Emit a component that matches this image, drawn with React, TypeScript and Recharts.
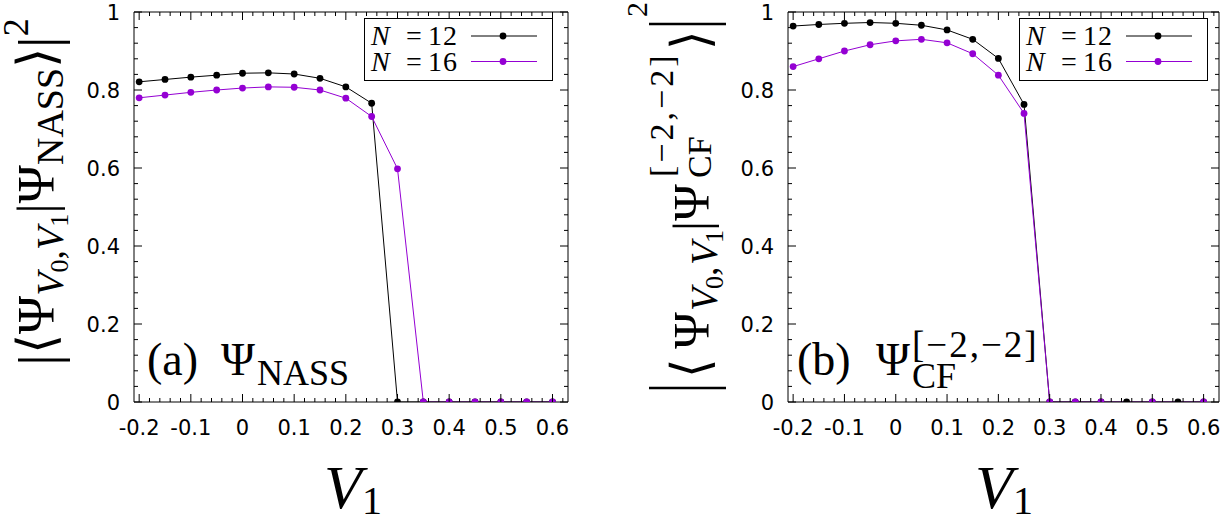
import React from 'react';
import { LineChart, Line, XAxis, YAxis, Legend } from 'recharts';

// ---- data ----
const xValues = [-0.2, -0.15, -0.1, -0.05, 0, 0.05, 0.1, 0.15, 0.2, 0.25, 0.3, 0.35, 0.4, 0.45, 0.5, 0.55, 0.6];
const nassN12 = [0.821, 0.827, 0.833, 0.838, 0.843, 0.844, 0.841, 0.83, 0.808, 0.766, 0, 0, 0, 0, 0, 0, 0];
const nassN16 = [0.78, 0.787, 0.794, 0.8, 0.805, 0.808, 0.807, 0.8, 0.779, 0.732, 0.598, 0, 0, 0, 0, 0, 0];
const cfN12 = [0.964, 0.968, 0.971, 0.973, 0.971, 0.966, 0.954, 0.93, 0.881, 0.763, 0, 0, 0, 0, 0, 0, 0];
const cfN16 = [0.86, 0.88, 0.9, 0.916, 0.926, 0.93, 0.921, 0.893, 0.838, 0.74, 0, 0, 0, null, 0, null, 0];

const seriesLabels = ['12', '16'];
const seriesColors = ['#000000', '#9400D3'];

const xMajorTicks = [-0.2, -0.1, 0, 0.1, 0.2, 0.3, 0.4, 0.5, 0.6];
const xTickLabels = ['-0.2', '-0.1', '0', '0.1', '0.2', '0.3', '0.4', '0.5', '0.6'];
const yMajorTicks = [0, 0.2, 0.4, 0.6, 0.8, 1];
const yTickLabels = ['0', '0.2', '0.4', '0.6', '0.8', '1'];
const xDomain = [-0.21, 0.63];
const yDomain = [0, 1];

// minor ticks: 5 subdivisions between majors
const subdivide = (majors: number[], step: number, lo: number, hi: number) => {
  const out: number[] = [];
  const n = Math.round((hi - lo) / step);
  for (let i = 0; i <= n; i++) {
    const v = Math.round((lo + i * step) * 1000) / 1000;
    if (!majors.some((m) => Math.abs(m - v) < 1e-6)) out.push(v);
  }
  return out;
};
const xMinorTicks = subdivide(xMajorTicks, 0.02, -0.2, 0.62);
const yMinorTicks = subdivide(yMajorTicks, 0.04, 0, 1);
const xAllTicks = [...xMajorTicks, ...xMinorTicks];
const yAllTicks = [...yMajorTicks, ...yMinorTicks];

const makeRows = (a: (number | null)[], b: (number | null)[]) =>
  xValues.map((x, i) => ({ x, n12: a[i], n16: b[i] }));
const dataA = makeRows(nassN12, nassN16);
const dataB = makeRows(cfN12, cfN16);

const majorIdx = (arr: number[], v: number) => arr.findIndex((m) => Math.abs(m - v) < 1e-6);

const TICK_FONT = 'DejaVu Sans, sans-serif';
const SERIF = 'Liberation Serif, Times New Roman, serif';
const BRACKET = 'DejaVu Sans';
const MAJ = 8;
const MIN = 4;

const BottomTick = (p: any) => {
  const { x, y, payload } = p;
  const i = majorIdx(xMajorTicks, payload.value);
  return (
    <g>
      <line x1={x} x2={x} y1={y} y2={y - (i >= 0 ? MAJ : MIN)} stroke="#000" strokeWidth={1} />
      {i >= 0 && (
        <text x={x} y={y + 33} textAnchor="middle" fontFamily={TICK_FONT} fontSize={21} fill="#000">
          {xTickLabels[i]}
        </text>
      )}
    </g>
  );
};
const TopTick = (p: any) => {
  const { x, y, payload } = p;
  const i = majorIdx(xMajorTicks, payload.value);
  return <line x1={x} x2={x} y1={y} y2={y + (i >= 0 ? MAJ : MIN)} stroke="#000" strokeWidth={1} />;
};
const LeftTick = (p: any) => {
  const { x, y, payload } = p;
  const i = majorIdx(yMajorTicks, payload.value);
  return (
    <g>
      <line x1={x} x2={x + (i >= 0 ? MAJ : MIN)} y1={y} y2={y} stroke="#000" strokeWidth={1} />
      {i >= 0 && (
        <text x={x - 14} y={y + 8} textAnchor="end" fontFamily={TICK_FONT} fontSize={21} fill="#000">
          {yTickLabels[i]}
        </text>
      )}
    </g>
  );
};
const RightTick = (p: any) => {
  const { x, y, payload } = p;
  const i = majorIdx(yMajorTicks, payload.value);
  return <line x1={x} x2={x - (i >= 0 ? MAJ : MIN)} y1={y} y2={y} stroke="#000" strokeWidth={1} />;
};

const LegendBox = () => (
  <svg width={190} height={64} style={{ display: 'block' }}>
    <rect x={0.5} y={0.5} width={188} height={62} fill="#fff" stroke="#000" strokeWidth={1} />
    {seriesLabels.map((lab, k) => {
      const cy = 18 + k * 25.5;
      return (
        <g key={lab}>
          <text fontFamily={SERIF} fontSize={28} fill="#000">
            <tspan x={7} y={cy + 9} fontStyle="italic">N</tspan>
            <tspan x={42} y={cy + 9}>=</tspan>
            <tspan x={64} y={cy + 9} letterSpacing={1}>{lab}</tspan>
          </text>
          <line x1={107} x2={173} y1={cy} y2={cy} stroke={seriesColors[k]} strokeWidth={1} />
          <circle cx={139} cy={cy} r={3.4} fill={seriesColors[k]} />
        </g>
      );
    })}
  </svg>
);

const XTitle = ({ cx }: { cx: number }) => (
  <text x={cx} y={508} textAnchor="middle" fontFamily={SERIF} fill="#000">
    <tspan fontStyle="italic" fontSize={62}>V</tspan>
    <tspan fontSize={40} dy={6}>1</tspan>
  </text>
);

const YTitleA = () => (
  <text transform="translate(54,192) rotate(-90)" textAnchor="middle" fontFamily={SERIF} fontSize={52} fill="#000">
    <tspan fontSize={58} dy={4}>|</tspan>
    <tspan dy={-4}>⟨Ψ</tspan>
    <tspan fontSize={38} fontStyle="italic" dy={9}>V</tspan>
    <tspan fontSize={26} dy={5}>0</tspan>
    <tspan fontSize={38} dy={-5}>,</tspan>
    <tspan fontSize={38} fontStyle="italic">V</tspan>
    <tspan fontSize={26} dy={5}>1</tspan>
    <tspan fontSize={52} dy={-14}>|Ψ</tspan>
    <tspan fontSize={38} dy={9}>NASS</tspan>
    <tspan fontSize={52} dy={-9}>⟩</tspan>
    <tspan fontSize={58} dy={4}>|</tspan>
    <tspan fontSize={36} dy={-30}>2</tspan>
  </text>
);

// Panel B title: pieces placed in a rotated frame (x = -screenY, y = screenX), local to panel B's chart
const YTitleB = () => (
  <g transform="rotate(-90)" fontFamily={SERIF} fill="#000">
    <text transform="translate(-393,94) scale(1,1.7)" fontSize={50}>|</text>
    <text transform="translate(-378,94) scale(1.25,1.3)" fontSize={40} fontFamily={BRACKET}>⟨</text>
    <text x={-349} y={94} fontSize={50}>Ψ</text>
    <text y={103} fontSize={38}>
      <tspan x={-311} fontStyle="italic">V</tspan>
      <tspan x={-289} y={109} fontSize={26}>0</tspan>
      <tspan x={-276} y={103}>,</tspan>
      <tspan x={-265} fontStyle="italic">V</tspan>
      <tspan x={-243} y={109} fontSize={26}>1</tspan>
    </text>
    <text x={-231} y={94} fontSize={50}>|Ψ</text>
    <text x={-178} y={97} fontSize={34}>CF</text>
    <text x={-177} y={59} fontSize={34} letterSpacing={3}>[−2,−2]</text>
    <text transform="translate(-50,94) scale(1.25,1.3)" fontSize={40} fontFamily={BRACKET}>⟩</text>
    <text transform="translate(-29,94) scale(1,1.7)" fontSize={50}>|</text>
    <text x={-17} y={33} fontSize={30}>2</text>
  </g>
);

const PanelLabelA = () => (
  <text fontFamily={SERIF} fill="#000">
    <tspan x={147} y={375} fontSize={46}>(a)</tspan>
    <tspan x={221} y={375} fontSize={46}>Ψ</tspan>
    <tspan x={257} y={385} fontSize={36}>NASS</tspan>
  </text>
);
const PanelLabelB = () => (
  <text fontFamily={SERIF} fill="#000">
    <tspan x={183} y={375} fontSize={46}>(b)</tspan>
    <tspan x={262} y={375} fontSize={46}>Ψ</tspan>
    <tspan x={298} y={388} fontSize={36}>CF</tspan>
    <tspan x={298} y={357} fontSize={37} letterSpacing={2}>[−2,−2]</tspan>
  </text>
);

type PanelProps = {
  data: any[];
  left: number;
  width: number;
  margin: { top: number; left: number; right: number; bottom: number };
  legendPos: { left: number; top: number };
  yTitle: React.ReactElement;
  panelLabel: React.ReactElement;
  xTitleCx: number;
};

const Panel = ({ data, left, width, margin, legendPos, yTitle, panelLabel, xTitleCx }: PanelProps) => (
  <div style={{ position: 'absolute', left, top: 0 }}>
    <LineChart width={width} height={519} data={data} margin={margin}>
      <XAxis
        xAxisId="b"
        dataKey="x"
        type="number"
        domain={xDomain}
        ticks={xAllTicks}
        interval={0}
        height={1}
        tickSize={0}
        tickMargin={0}
        tick={BottomTick}
        axisLine={{ stroke: '#000', strokeWidth: 1 }}
        tickLine={false}
        allowDataOverflow
        label={<XTitle cx={xTitleCx - left} />}
      />
      <XAxis
        xAxisId="t"
        dataKey="x"
        orientation="top"
        type="number"
        domain={xDomain}
        ticks={xAllTicks}
        interval={0}
        height={1}
        tickSize={0}
        tickMargin={0}
        tick={TopTick}
        axisLine={{ stroke: '#000', strokeWidth: 1 }}
        tickLine={false}
        allowDataOverflow
      />
      <YAxis
        yAxisId="l"
        type="number"
        domain={yDomain}
        ticks={yAllTicks}
        interval={0}
        width={1}
        tickSize={0}
        tickMargin={0}
        tick={LeftTick}
        axisLine={{ stroke: '#000', strokeWidth: 1 }}
        tickLine={false}
        allowDataOverflow
        label={yTitle}
      />
      <YAxis
        yAxisId="r"
        orientation="right"
        type="number"
        domain={yDomain}
        ticks={yAllTicks}
        interval={0}
        width={1}
        tickSize={0}
        tickMargin={0}
        tick={RightTick}
        axisLine={{ stroke: '#000', strokeWidth: 1 }}
        tickLine={false}
        allowDataOverflow
        label={panelLabel}
      />
      <Line
        xAxisId="b"
        yAxisId="l"
        dataKey="n12"
        type="linear"
        stroke={seriesColors[0]}
        strokeWidth={1}
        dot={{ r: 3.4, fill: seriesColors[0], stroke: seriesColors[0], strokeWidth: 0 }}
        activeDot={false}
        connectNulls
        isAnimationActive={false}
      />
      <Line
        xAxisId="b"
        yAxisId="l"
        dataKey="n16"
        type="linear"
        stroke={seriesColors[1]}
        strokeWidth={1}
        dot={{ r: 3.4, fill: seriesColors[1], stroke: seriesColors[1], strokeWidth: 0 }}
        activeDot={false}
        connectNulls
        isAnimationActive={false}
      />
      <Legend
        layout="vertical"
        align="center"
        verticalAlign="middle"
        content={() => <LegendBox />}
        wrapperStyle={{ position: 'absolute', left: legendPos.left, top: legendPos.top, width: 190, height: 64 }}
      />
    </LineChart>
  </div>
);

export default function App() {
  return (
    <div style={{ position: 'absolute', left: 0, top: 0, width: 1227, height: 519, background: '#fff' }}>
      <Panel
        data={dataA}
        left={0}
        width={614}
        margin={{ top: 11, left: 133, right: 45, bottom: 116 }}
        legendPos={{ left: 364, top: 18 }}
        yTitle={<YTitleA />}
        panelLabel={<PanelLabelA />}
        xTitleCx={353}
      />
      <Panel
        data={dataB}
        left={614}
        width={613}
        margin={{ top: 11, left: 173, right: 7, bottom: 116 }}
        legendPos={{ left: 1019 - 614, top: 18 }}
        yTitle={<YTitleB />}
        panelLabel={<PanelLabelB />}
        xTitleCx={1004}
      />
    </div>
  );
}
